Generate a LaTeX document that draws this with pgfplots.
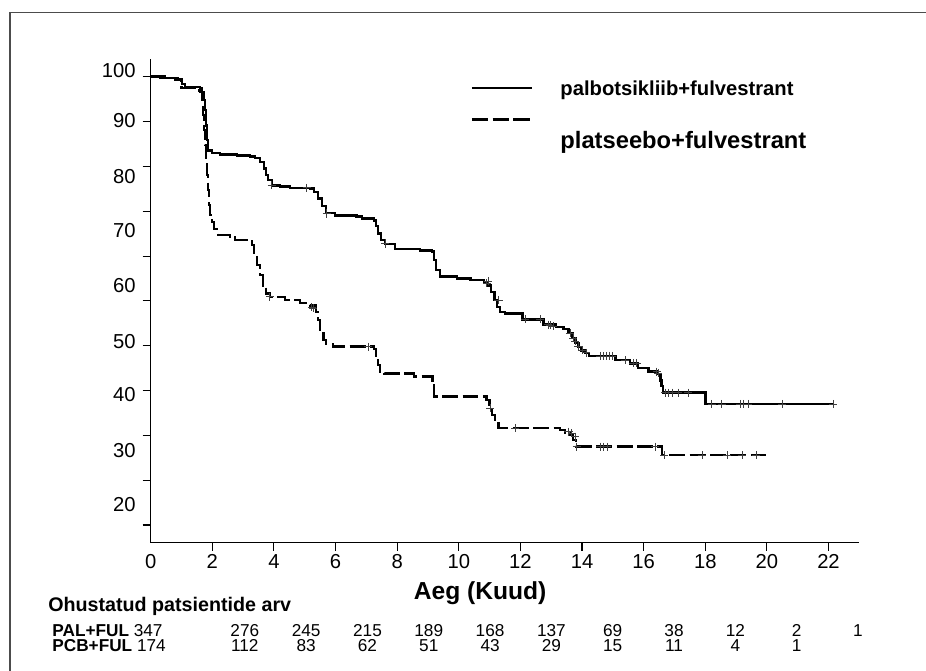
\documentclass[border=0pt]{standalone}
\usepackage{fontspec}
\setmainfont{Liberation Sans}
\usepackage{pgfplots}
\pgfplotsset{compat=1.18}

\begin{document}
\begin{tikzpicture}
\useasboundingbox (0,0) rectangle (18.52,13.42);
\begin{axis}[
  at={(3.014cm,2.566cm)}, anchor=south west,
  scale only axis, width=14.172cm, height=9.668cm,
  xmin=0, xmax=23.0, ymin=-3.95, ymax=103.9,
  axis lines=left, axis line style={-, line width=0.9pt},
  tick align=outside, major tick length=4.6pt,
  tick style={line width=0.6pt, black},
  typeset ticklabels with strut,
  xtick={2,4,...,22},
  xticklabel style={yshift=2.5pt},
  extra x ticks={0}, extra x tick style={major tick length=0pt, xticklabel style={yshift=-4.6pt}},
  ytick={0,10,...,100}, yticklabels={},
  extra y ticks={100.8,89.6,77.3,65.1,52.8,40.5,28.5,16.1,4.1},
  extra y tick labels={100,90,80,70,60,50,40,30,20},
  extra y tick style={major tick length=0pt, yticklabel style={xshift=-5pt}},
  tick label style={font=\fontsize{11.5}{13}\selectfont},
  /pgf/number format/assume math mode=true,
  clip=false,
]
% palbotsikliib + fulvestrant
\addplot[const plot, line width=1.5pt] coordinates {
(0,100) (0.46,99.7) (0.89,99.4) (1.02,98.4) (1.11,97.7) (1.6,97.5) (1.67,96.6)
(1.73,94.8) (1.76,92.6) (1.80,89.2) (1.83,85.9) (1.86,83.6) (1.99,83.0) (2.25,82.7)
(2.80,82.5) (3.22,82.2) (3.39,81.9) (3.55,81.0) (3.68,79.6) (3.74,78.1) (3.81,77.0)
(3.94,75.8) (4.20,75.5) (4.52,75.2) (5.17,75.1) (5.30,74.3) (5.43,72.9) (5.56,71.2)
(5.69,69.6) (5.98,69.0) (6.67,68.8) (6.86,68.4) (7.25,67.9) (7.31,66.7) (7.38,65.1)
(7.48,63.6) (7.61,62.7) (7.93,61.6) (8.74,61.3) (9.13,61.0) (9.20,59.1) (9.26,56.9)
(9.39,55.4) (9.94,55.0) (10.37,54.7) (10.82,54.2) (10.95,53.5) (11.05,52.0) (11.15,50.2)
(11.24,48.6) (11.34,47.5) (11.50,47.2) (12.06,45.9) (12.74,44.8) (13.16,44.2) (13.39,43.7)
(13.56,42.8) (13.69,41.7) (13.78,40.6) (13.88,39.7) (13.98,39.0) (14.10,38.4) (14.23,37.7)
(15.08,36.8) (15.56,36.1) (15.82,35.0) (16.15,34.2) (16.47,33.7) (16.54,32.3) (16.57,31.0)
(16.63,29.5) (18.00,27.0) (22.16,27.0)
};
% platseebo + fulvestrant
\addplot[const plot, line width=1.5pt, dash pattern=on 9pt off 2.6pt] coordinates {
(0,100) (0.30,99.7) (0.79,99.3) (1.01,97.5) (1.44,96.9) (1.60,96.6) (1.67,94.8)
(1.70,91.5) (1.73,88.1) (1.76,84.8) (1.80,81.4) (1.83,78.1) (1.86,74.7) (1.89,71.4)
(1.93,69.2) (1.99,67.6) (2.06,66.0) (2.19,64.7) (2.57,64.1) (2.74,63.6) (3.29,62.5)
(3.35,60.2) (3.45,58.0) (3.55,55.8) (3.65,53.5) (3.74,51.7) (3.87,50.9) (4.36,50.2)
(4.85,49.5) (5.17,48.9) (5.37,47.5) (5.43,45.7) (5.50,43.5) (5.60,41.3) (5.69,40.4)
(5.92,39.8) (7.25,39.3) (7.31,37.5) (7.38,35.7) (7.44,34.1) (7.58,33.8) (8.55,33.1)
(9.14,32.3) (9.20,28.6) (10.89,27.9) (10.99,26.1) (11.08,24.5) (11.18,23.0) (11.28,21.6)
(13.29,21.2) (13.45,20.7) (13.62,20.1) (13.71,19.0) (13.81,17.5) (16.60,15.6) (19.98,15.6)
};
% censored
\addplot[only marks, mark=+, mark size=2.3pt, mark options={line width=0.5pt, black!75}] coordinates {
(3.93,75.8) (5.06,75.2) (5.71,69.5) (7.61,62.8) (10.91,53.9) (10.95,54.4) (11.29,50.2)
(12.15,45.9) (12.64,45.9) (12.91,44.7) (12.96,44.6) (13.07,44.4) (13.61,42.8) (13.71,41.7)
(13.78,41.0) (13.88,39.9) (14.01,39.0) (14.14,38.4) (14.59,37.7) (14.69,37.7) (14.79,37.7)
(14.88,37.7) (14.98,37.7) (15.40,36.8) (15.67,36.1) (15.78,36.1) (16.43,34.2) (16.47,33.9)
(16.70,29.5) (16.81,29.5) (16.92,29.5) (17.13,29.5) (17.45,29.5) (18.21,27.0) (18.54,27.0)
(19.13,27.0) (19.24,27.0) (19.40,27.0) (20.49,27.0) (22.16,27.0)
};
\addplot[only marks, mark=+, mark size=2.3pt, mark options={line width=0.5pt, black!75}] coordinates {
(3.87,50.9) (5.23,48.6) (5.27,48.4) (7.06,39.8) (11.02,26.0) (11.83,21.6) (13.56,20.8)
(13.67,20.5) (13.78,19.7) (13.83,17.5) (14.59,17.5) (14.69,17.5) (14.81,17.5) (16.37,17.5)
(16.67,15.6) (17.90,15.6) (18.71,15.6) (19.20,15.6) (19.65,15.6)
};
\end{axis}
\begin{scope}[shift={(0,13.42)}, x=0.02cm, y=-0.02cm]
\draw[black!70, line width=0.8pt] (10,671) -- (10,12.7) -- (926,12.7);
\draw[line width=1.2pt] (471.7,88.3) -- (531.7,88.3);
\draw[line width=1.7pt, dash pattern=on 9.5pt off 2.3pt] (471.7,119.3) -- (533,119.3);
\node[anchor=base west, inner sep=0, font=\bfseries\fontsize{11.5}{13}\selectfont] at (560,95.7) {palbotsikliib+fulvestrant};
\node[anchor=base west, inner sep=0, font=\bfseries\fontsize{13.5}{15}\selectfont] at (560,148.3) {platseebo+fulvestrant};
\node[anchor=base, inner sep=0, font=\bfseries\fontsize{14}{16}\selectfont] at (480,599) {Aeg (Kuud)};
\node[anchor=base west, inner sep=0, font=\bfseries\fontsize{11.2}{13}\selectfont] at (48,611) {Ohustatud patsientide arv};
\begin{scope}[every node/.style={anchor=base, inner sep=0, font=\fontsize{9.8}{11}\selectfont}]
\node[anchor=base west] at (52,636) {\textbf{PAL+FUL} 347};
\node[anchor=base west] at (52,651) {\textbf{PCB+FUL} 174};
\foreach \n [count=\i] in {276,245,215,189,168,137,69,38,12,2,1}
  \node at ({183.5+61.3*\i},636) {\n};
\foreach \n [count=\i] in {112,83,62,51,43,29,15,11,4,1}
  \node at ({183.5+61.3*\i},651) {\n};
\end{scope}
\end{scope}
\end{tikzpicture}
\end{document}
